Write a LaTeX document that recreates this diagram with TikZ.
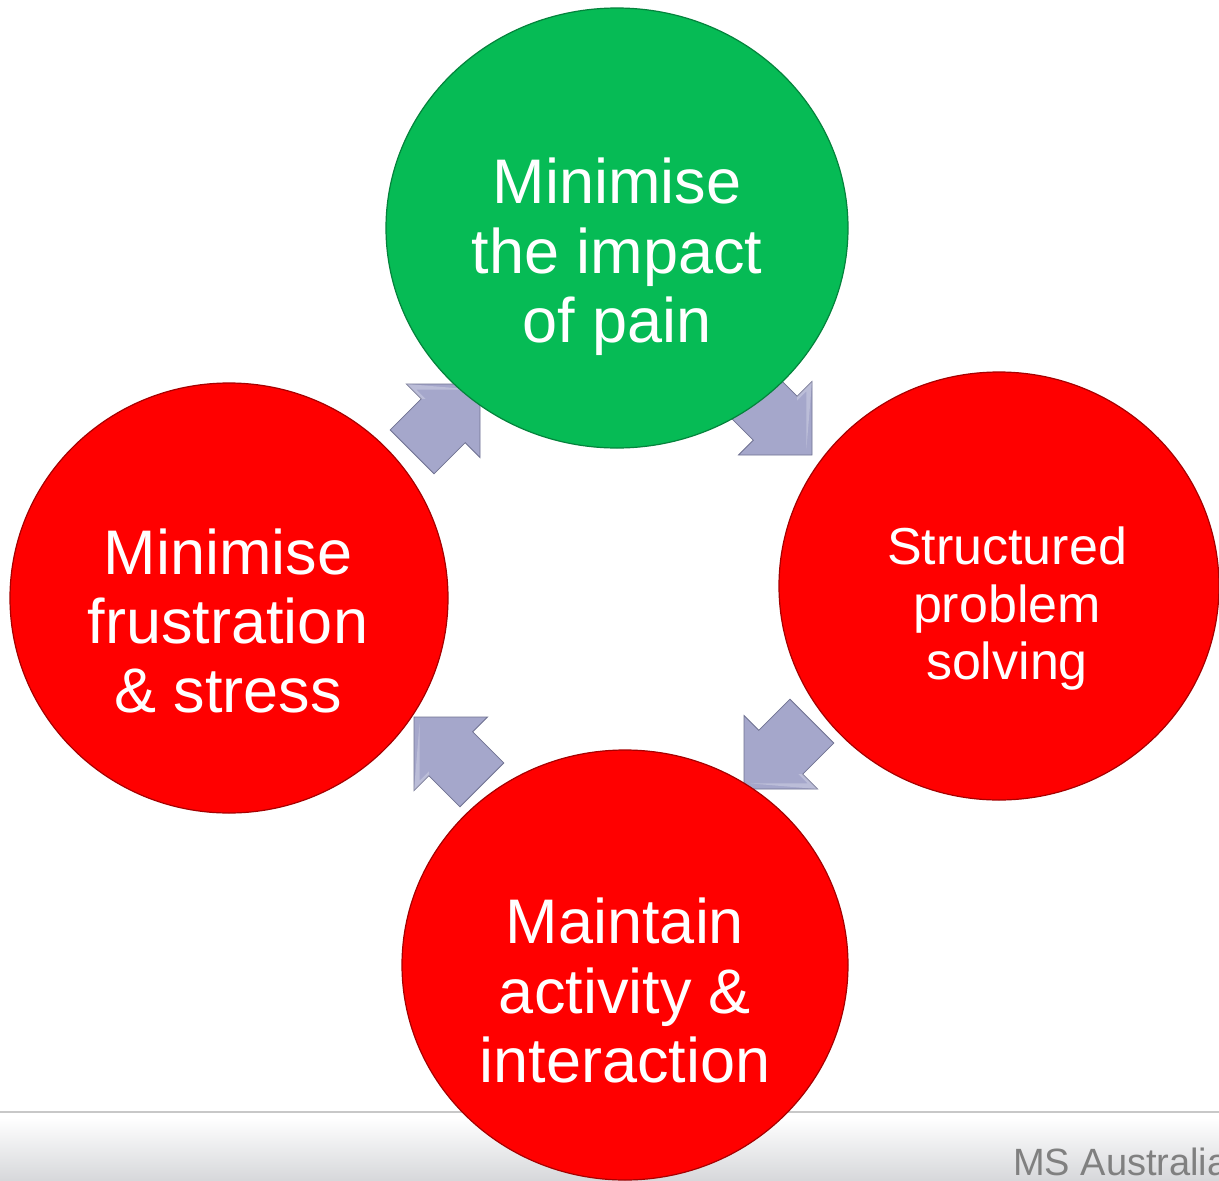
\documentclass[tikz,border=0pt]{standalone}
\usepackage{fontspec}
\setmainfont{Liberation Sans}
\usetikzlibrary{shapes.geometric}

\definecolor{padgreen}{RGB}{6,187,85}
\definecolor{padred}{RGB}{255,0,0}
\definecolor{arrowfill}{RGB}{165,167,203}
\definecolor{arrowedge}{RGB}{112,114,146}
\definecolor{footergray}{RGB}{214,215,218}
\definecolor{footerline}{RGB}{200,200,200}
\definecolor{footertext}{RGB}{128,128,128}

\begin{document}
\begin{tikzpicture}[x=1pt,y=1pt,
  bubble/.style={ellipse, inner sep=0pt, line width=1.2pt},
  greenbubble/.style={bubble, fill=padgreen, draw=padgreen!70!black},
  redbubble/.style={bubble, fill=padred, draw=padred!65!black},
  bubbletext/.style={text=white, align=center, inner sep=0pt, anchor=north},
  bigtext/.style={font=\fontsize{63}{69.5}\selectfont},
  smalltext/.style={font=\fontsize{52}{57.5}\selectfont},
  blockarrow/.pic={
    \path[fill=arrowfill, draw=arrowedge, line width=0.8pt, line join=miter]
      (0,0) -- (-52,52) -- (-52,31) -- (-96,31) -- (-96,-31)
      -- (-52,-31) -- (-52,-52) -- cycle;
    \path[fill=white, opacity=0.25]
      (-8,0) -- (-49,41) -- (-49,28) -- (-52,31) -- (-52,52) -- cycle;
  }
]
\useasboundingbox (0,0) rectangle (1219,-1181);
\clip (0,0) rectangle (1219,-1181);
\fill[white] (0,0) rectangle (1219,-1181);

% footer band
\shade[top color=white, bottom color=footergray] (0,-1118) rectangle (1219,-1181);
\draw[footerline, line width=1.5pt] (0,-1112) -- (1219,-1112);
\node[anchor=base west, inner sep=0pt, text=footertext,
      font=\fontsize{38}{40}\selectfont] (brand) at (1013,-1175) {MS Australia};

% cycle arrows (drawn beneath the bubbles)
\pic[rotate=45]   (arrowA) at (480,-384) {blockarrow};
\pic[rotate=-45]  (arrowB) at (812,-455) {blockarrow};
\pic[rotate=-135] (arrowC) at (744,-789) {blockarrow};
\pic[rotate=135]  (arrowD) at (414,-717) {blockarrow};

% bubbles
\node[greenbubble, minimum width=462pt, minimum height=440pt] (cTop)    at (617,-228) {};
\node[redbubble,   minimum width=440pt, minimum height=428pt] (cRight)  at (999,-586) {};
\node[redbubble,   minimum width=438pt, minimum height=430pt] (cLeft)   at (229,-598) {};
\node[redbubble,   minimum width=446pt, minimum height=430pt] (cBottom) at (625,-965) {};

% bubble captions
\node[bubbletext, bigtext]   (tTop)    at (617,-158)  {Minimise\\the impact\\of pain};
\node[bubbletext, smalltext] (tRight)  at (1007,-527) {Structured\\problem\\solving};
\node[bubbletext, bigtext, font=\fontsize{63}{69}\selectfont]
                             (tLeft)   at (228,-529)  {Minimise\\frustration\\\&~stress};
\node[bubbletext, bigtext]   (tBottom) at (625,-898)  {Maintain\\activity \&\\interaction};
\end{tikzpicture}
\end{document}
